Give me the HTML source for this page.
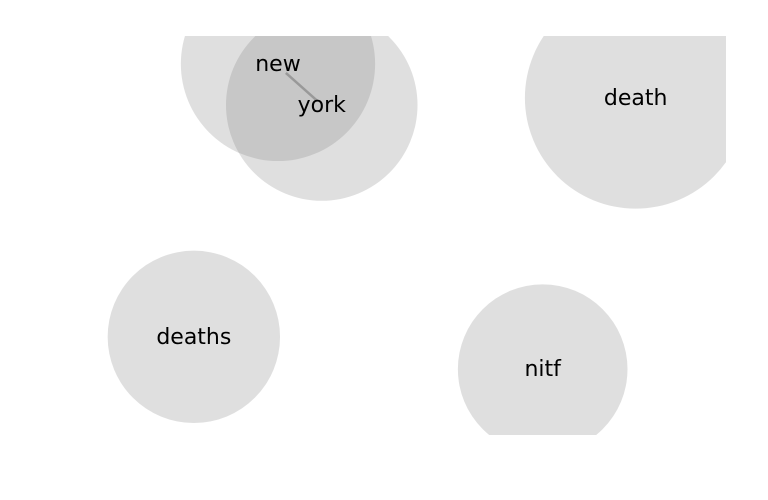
<!DOCTYPE html>
<html><head><meta charset="utf-8"><style>
html,body{margin:0;padding:0;background:#fff;}
svg{display:block;font-family:"DejaVu Sans","Liberation Sans",sans-serif;}
</style></head><body>
<svg id="chart" width="768" height="500" viewBox="0 0 768 500">
<defs><clipPath id="clip"><rect x="42" y="36" width="684" height="399"/></clipPath></defs>
<g id="plot" clip-path="url(#clip)"></g>
</svg>
<script>
const words = ["new","york","death","deaths","nitf"];
const xs = [3.45, 4.09, 8.68, 2.22, 7.32];
const ys = [9.30, 8.27, 8.45, 2.46, 1.65];
const rs = [1.42, 1.40, 1.62, 1.26, 1.24];
const links = [[0,1]];

const X0=42, X1=726, Y0=435, Y1=36;
function sx(v){return X0+(X1-X0)*v/10;}
function sy(v){return Y0-(Y0-Y1)*v/10;}
function sr(v){return (X1-X0)*v/10;}
const NS="http://www.w3.org/2000/svg";
const g=document.getElementById('plot');
words.forEach((w,i)=>{
  const c=document.createElementNS(NS,'circle');
  c.setAttribute('cx',sx(xs[i]));c.setAttribute('cy',sy(ys[i]));c.setAttribute('r',sr(rs[i]));
  c.setAttribute('fill','rgba(128,128,128,0.25)');
  
  
  g.appendChild(c);
});
links.forEach(([a,b])=>{
  const l=document.createElementNS(NS,'line');
  const x1=sx(xs[a]),y1=sy(ys[a]),x2=sx(xs[b]),y2=sy(ys[b]);
  l.setAttribute('x1',x1+(x2-x1)*0.18);l.setAttribute('y1',y1+(y2-y1)*0.22);
  l.setAttribute('x2',x2-(x2-x1)*0.1);l.setAttribute('y2',y2-(y2-y1)*0.1);
  l.setAttribute('stroke','#999');l.setAttribute('stroke-width','2.5');
  
  
  g.appendChild(l);
});
words.forEach((w,i)=>{
  const t=document.createElementNS(NS,'text');
  t.setAttribute('x',sx(xs[i]));t.setAttribute('y',sy(ys[i])+7);
  t.setAttribute('text-anchor','middle');t.setAttribute('font-size','22');t.setAttribute('fill','#000');
  t.textContent=w;
  
  
  g.appendChild(t);
});
</script>
</body></html>
